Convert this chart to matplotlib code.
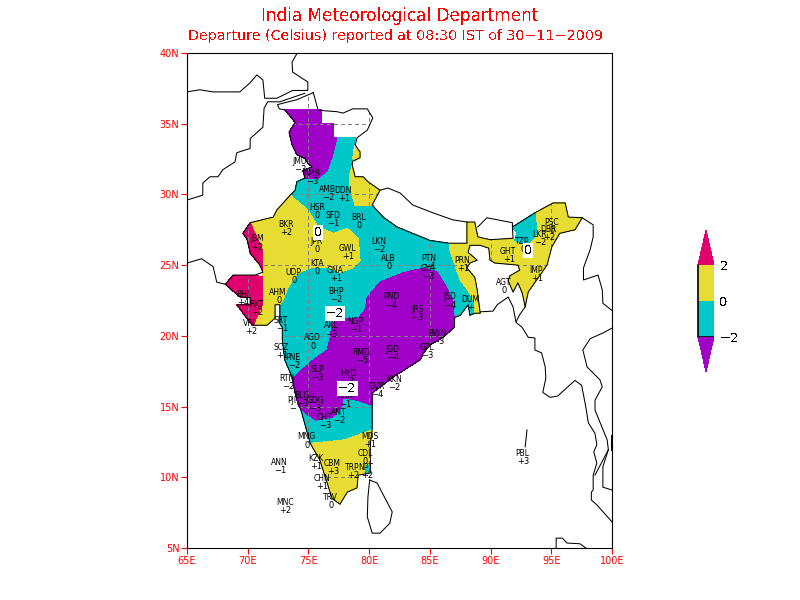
import matplotlib
matplotlib.use("Agg")
import matplotlib.pyplot as plt
from matplotlib.colors import ListedColormap, BoundaryNorm
from matplotlib.cm import ScalarMappable
from matplotlib.patches import Polygon

plt.rcParams["font.family"] = "DejaVu Sans"
plt.rcParams["text.antialiased"] = False

# colours of the shading
C_RED = "#e0006e"
C_YELLOW = "#e6dc32"
C_TEAL = "#00c8c8"
C_PURPLE = "#a000c8"

# departure areas, (lon, lat)
TEAL_MAIN = [(77.35,34.0),(78.9,34.0),(78.65,33.15),(78.65,32.45),(78.35,31.25),(78.45,30.35),(78.85,29.2),
    (80.25,29.25),(81.15,28.4),(82.3,27.7),(85.0,26.75),(86.6,26.55),(86.6,26.2),(87.05,25.0),(87.5,23.95),
    (88.3,23.0),(88.7,22.3),(88.7,21.6),(88.3,21.45),(88.15,22.2),(87.5,21.45),(87.05,21.3),(87.0,20.6),
    (86.1,19.9),(85.0,19.35),(84.45,18.75),(84.2,18.3),(82.0,17.1),(80.25,15.95),(80.25,15.1),(80.25,13.35),
    (78.0,12.65),(75.15,12.4),(74.45,14.55),(73.9,15.95),(73.65,17.1),(73.05,18.3),(72.85,19.7),(72.85,20.6),
    (72.65,20.85),(72.65,22.55),(71.25,24.65),(73.5,29.95),(73.9,30.3),(74.05,30.9),(74.7,31.15),(75.8,31.15)]
TEAL_NE = [(91.8,27.7),(93.65,28.7),(93.85,27.25),(93.0,26.4),(92.0,26.75),(92.15,27.3)]
TEAL_NPT = [(79.85,10.9),(80.1,10.9),(80.1,10.3),(79.65,10.3)]
PURPLE_NORTH = [(73.05,35.98),(76.1,35.98),(76.1,35.0),(77.1,35.0),(77.1,34.0),(77.35,34.0),(76.95,32.65),
    (76.55,31.7),(75.8,31.15),(74.7,31.15),(74.55,31.7),(75.3,31.95),(74.95,32.2),(74.7,32.55),(74.05,32.8),
    (73.65,33.5),(73.4,34.4),(73.9,35.1)]
PURPLE_MAIN = [(80.9,23.8),(82.8,24.45),(84.45,24.8),(85.6,24.5),(86.25,23.6),(86.85,22.55),(87.0,21.35),
    (87.0,20.6),(86.1,19.9),(85.0,19.35),(84.45,18.75),(84.2,18.3),(82.0,17.1),(80.25,15.95),(80.25,15.1),
    (79.0,15.45),(77.85,15.6),(77.75,15.0),(76.95,14.25),(75.7,14.05),(74.9,14.4),(74.15,15.1),(73.9,15.95),
    (73.75,17.0),(75.15,18.15),(76.55,19.0),(76.8,19.9),(76.95,20.9),(78.0,21.25),(79.1,21.25),(79.65,21.8),
    (79.85,22.75)]
YELLOW_WEST = [(73.5,29.95),(74.95,28.9),(75.8,27.7),(77.05,27.25),(78.2,27.6),(79.1,26.9),(79.25,25.35),
    (78.65,24.8),(77.6,24.5),(76.8,24.8),(75.15,24.8),(74.15,24.45),(73.3,23.4),(72.9,22.55),(72.65,22.2),
    (72.25,22.2),(72.25,21.25),(71.6,20.75),(70.45,20.75),(71.2,22.2),(71.25,24.15),(71.2,26.1),(70.2,28.0),
    (72.1,28.4),(72.4,28.9)]
YELLOW_SOUTH = [(75.15,12.4),(78.0,12.65),(80.25,13.35),(80.1,12.4),(79.85,10.3),(79.1,10.15),(79.0,9.25),
    (78.2,8.95),(77.6,8.1),(76.95,8.5),(75.95,11.2)]
YELLOW_HILLS = [(78.35,31.25),(78.6,32.1),(78.85,31.25),(79.5,31.25),(79.9,30.9),(80.9,30.3),(80.25,29.25),
    (78.85,29.2),(78.45,30.35)]
YELLOW_LADAKH = [(78.85,33.5),(79.25,33.0),(79.25,32.6),(78.85,32.35),(78.65,32.6),(78.85,33.15)]
YELLOW_NE = [(86.6,26.55),(88.05,26.55),(88.05,28.05),(88.7,28.05),(88.95,27.0),(89.95,26.8),(91.85,26.9),
    (92.0,26.65),(93.0,26.4),(93.85,27.25),(93.65,28.7),(95.15,29.4),(96.15,29.4),(96.4,28.4),(97.55,28.35),
    (96.95,27.5),(95.7,27.25),(95.05,26.3),(94.65,25.0),(93.1,23.1),(92.85,22.05),(92.6,23.05),(92.25,23.75),
    (91.85,23.1),(91.45,23.9),(91.6,24.25),(92.4,24.65),(92.25,25.0),(90.35,25.15),(89.95,25.35),(89.85,26.2),
    (89.15,26.4),(88.3,26.4),(88.15,25.9),(88.9,25.35),(88.3,25.15),(88.05,24.8),(88.7,24.15),(88.9,23.25),
    (89.15,21.6),(88.7,21.6),(88.7,22.3),(88.3,23.0),(87.5,23.95),(87.05,25.0),(86.6,26.2)]
RED_NORTH = [(70.2,28.0),(69.6,27.25),(69.95,26.8),(70.2,25.85),(71.0,25.0),(71.25,24.5),(71.2,26.1)]
RED_SOUTH = [(68.15,23.65),(68.8,24.3),(70.6,24.3),(71.25,24.15),(71.2,22.2),(70.45,20.75),(70.05,21.1),
    (69.1,22.2),(70.2,22.2),(70.2,22.7),(69.35,22.75)]

# map lines, (lon, lat)
INDIA_BORDER = [(75.4,37.2),(75.8,35.95),(77.35,35.85),(77.85,35.75),(78.65,36.05),(79.85,36.05),(80.3,35.4),
    (79.85,34.55),(79.0,34.0),(78.85,33.5),(79.25,33.0),(79.25,32.6),(78.65,32.35),(78.6,32.1),(78.85,31.25),
    (79.5,31.25),(79.9,30.9),(80.9,30.3),(80.25,29.25),(81.15,28.4),(82.3,27.7),(85.0,26.75),(86.6,26.55),
    (88.05,26.55),(88.05,28.05),(88.7,28.05),(88.95,27.0),(89.95,26.8),(91.85,26.9),(91.8,27.7),(93.65,28.7),
    (95.15,29.4),(96.15,29.4),(96.4,28.4),(97.55,28.35),(96.95,27.5),(95.7,27.25),(95.05,26.3),(94.65,25.0),
    (93.1,23.1),(92.85,22.05),(92.6,23.05),(92.25,23.75),(91.85,23.1),(91.45,23.9),(91.6,24.25),(92.4,24.65),
    (92.25,25.0),(90.35,25.15),(89.95,25.35),(89.85,26.2),(89.15,26.4),(88.3,26.4),(88.15,25.9),(88.9,25.35),
    (88.3,25.15),(88.05,24.8),(88.7,24.15),(88.9,23.25),(89.15,21.6),(88.7,21.6),(88.3,21.45),(88.15,22.2),
    (87.5,21.45),(87.05,21.3),(87.0,20.6),(86.1,19.9),(85.0,19.35),(84.45,18.75),(84.2,18.3),(82.0,17.1),
    (80.25,15.95),(80.25,13.35),(80.1,12.4),(80.1,10.3),(79.1,10.15),(79.0,9.25),(78.2,8.95),(77.6,8.1),
    (76.95,8.5),(75.95,11.2),(75.15,12.4),(74.45,14.55),(73.9,15.95),(73.65,17.1),(73.05,18.3),(72.85,19.7),
    (72.85,20.6),(72.65,20.85),(72.65,22.2),(72.25,22.2),(72.25,21.25),(71.6,20.75),(70.45,20.75),(70.05,21.1),
    (69.1,22.2),(70.2,22.2),(70.2,22.7),(69.35,22.75),(68.15,23.65),(68.8,24.3),(70.6,24.3),(71.25,24.5),
    (71.0,25.0),(70.2,25.85),(69.95,26.8),(69.6,27.25),(70.2,28.0),(72.1,28.4),(72.4,28.9),(73.5,29.95),
    (73.9,30.3),(74.05,30.9),(74.7,31.15),(74.55,31.7),(75.3,31.95),(74.95,32.2),(74.7,32.55),(74.05,32.8),
    (73.65,33.5),(73.4,34.4),(73.9,35.1),(73.05,35.98),(72.6,36.05),(72.45,36.35),(74.05,36.7),(75.4,37.2)]
AFGHAN_NORTH = [(65,37.25),(66.05,37.4),(67.15,37.25),(68.15,37.25),(69.35,37.25),(70.2,37.9),(70.75,38.45),
    (71.25,38.1),(71.4,36.8),(72.4,36.8),(73.7,37.35),(74.95,37.35),(74.95,37.95),(73.7,38.65),(73.65,39.35),
    (74.05,39.95)]
PAK_AFGHAN = [(74.7,37.15),(72.65,36.55),(71.65,36.55),(71.35,36.1),(71.25,34.75),(70.2,33.95),(70.2,33.25),
    (69.1,32.95),(68.95,32.3),(67.95,31.75),(67.55,31.25),(66.9,31.25),(66.3,30.8),(66.3,29.95),(65,29.6)]
PAK_COAST = [(65,25.15),(66.2,25.45),(67.15,24.9),(67.45,23.8),(68.15,23.65)]
NEPAL_NORTH = [(80.9,30.3),(81.55,30.45),(82.55,30.1),(83.6,29.25),(85.25,28.7),(86.9,28.2),(88.05,28.05)]
BHUTAN = [(88.95,27.7),(89.7,28.35),(91.8,28.0),(91.8,27.7)]
MYANMAR = [(97.55,28.35),(98.45,27.85),(98.45,27.0),(98.2,26.1),(97.65,24.8),(97.65,23.95),(98.85,24.3),
    (99.2,23.25),(99.25,22.3),(100,21.8)]
BAY_COAST = [(89.15,21.7),(90.2,21.75),(90.55,22.2),(91.45,22.75),(91.85,22.05),(92.1,20.95),(92.6,20.6),
    (93.1,19.9),(93.65,19.85),(93.65,19.0),(94.2,18.8),(94.5,17.8),(94.55,17.0),(94.3,16.0),(94.9,15.65),
    (95.55,15.75),(95.85,16.0),(96.95,16.85),(97.5,16.5),(97.85,14.95),(98.05,13.85),(98.6,13.1),(98.75,12.3),
    (98.5,11.8),(98.75,11.0),(98.45,10.15),(98.45,9.1),(98.3,8.95),(98.3,8.4),(98.75,8.05),(100,6.85)]
MIZORAM_SPUR = [(92.1,21.0),(92.4,21.5),(92.85,22.05)]
THAILAND_WEST = [(100,20.55),(99.25,20.2),(98.2,19.8),(97.6,19.0),(97.95,17.8),(99.0,16.9),(99.2,16.4),
    (98.6,15.45),(98.6,14.75),(99.6,12.65),(99.7,11.95),(98.6,10.15)]
THAILAND_EAST = [(99.7,11.95),(99.25,10.75),(99.25,9.3),(100,9.1)]
THAILAND_GULF = [(99.9,13.0),(99.9,11.95)]
ANDAMAN = [(93.0,13.35),(92.85,12.15)]
SUMATRA = [(95.4,5.0),(95.4,5.7),(95.9,5.7),(96.3,5.35),(97.35,5.3),(97.85,5.0)]
SRI_LANKA = [(80.05,9.8),(80.65,9.6),(81.9,7.55),(81.7,6.75),(80.9,6.05),(80.25,6.05),(79.85,7.2),(79.9,8.6),
    (80.0,9.45),(80.05,9.8)]

# stations
STATION_NAME = ["JMU","AMR","AMB","DDN","HSR","SFD","BRL","BKR","JSM","JPR","GWL","LKN","ALB","KTA","UDP","GNA",
    "AHM","BHJ","BHP","RKT","PND","SRT","VRL","AKL","NGP","AGD","SCZ","PNE","RMD","JGD","SLP","HYD","RTN","KKN",
    "GVR","BLG","PJI","GDG","KRN","ANT","CHT","MNG","MDS","CDL","ANN","KZK","CBM","TRP","NPT","CHN","TRV","MNC",
    "PBL","GYA","PTN","JSD","DUM","JRS","BWN","GPL","PRN","GHT","AGT","IMP","TZP","LKR","DBR","PSC"]
STATION_LON = [74.3,75.3,76.6,77.85,75.7,77.0,79.1,73.15,70.75,75.7,78.2,80.75,81.55,75.7,73.75,77.2,
    72.5,69.6,77.25,70.7,81.8,72.75,70.2,76.85,78.9,75.3,72.75,73.75,79.35,81.9,75.7,78.25,73.25,82.05,
    80.65,74.45,73.65,75.55,78.0,77.5,76.35,74.8,80.05,79.65,72.6,75.6,76.95,78.65,79.75,76.1,76.85,73.05,
    92.6,84.85,84.95,86.65,88.3,83.95,85.6,84.75,87.65,91.45,91.1,93.75,92.6,94.0,94.8,95.05]
STATION_LAT = [32.35,31.5,30.35,30.25,29.1,28.5,28.35,27.9,26.85,26.7,26.2,26.65,25.45,25.15,24.5,24.6,
    23.05,22.95,23.15,22.2,22.75,21.1,20.9,20.7,21.05,19.85,19.15,18.5,18.8,19.05,17.65,17.35,17.0,16.9,
    16.45,15.8,15.4,15.4,15.75,14.6,14.2,12.85,12.9,11.7,11.05,11.3,11.0,10.7,10.7,9.9,8.55,8.25,
    11.7,24.75,25.5,22.75,22.6,21.85,20.2,19.2,25.3,26.0,23.8,24.6,26.65,27.2,27.5,28.05]
STATION_DEP = ["-3","-3","-2","+1","0","-1","0","+2","+2","0","+1","-2","0","0","0","+1",
    "0","+4","-2","+2","-4","-1","+2","-3","-1","0","+1","-2","-5","-4","-3","-3","-2","-2",
    "-4","-3","-","-3","-1","-2","-3","0","+1","0","-1","+1","+3","+2","+2","+1","0","+2",
    "+3","-3","-1","-4","+","-3","-3","-3","+1","+1","0","+1","0","-2","+2","0"]

# contour labels
CONTOUR_LON = [75.8,77.2,78.2,93.1]
CONTOUR_LAT = [27.3,21.6,16.3,26.05]
CONTOUR_TEXT = ["0","\u22122","\u22122","0"]

LON_TICKS = [65,70,75,80,85,90,95,100]
LAT_TICKS = [5,10,15,20,25,30,35,40]
BAR_LEVELS = [-2,0,2]
BAR_LABELS = ["\u22122","0","2"]

fig = plt.figure(figsize=(8, 6), dpi=100)
ax = fig.add_axes([187/800, 52/600, 425/800, 495/600])
ax.set_xlim(65, 100)
ax.set_ylim(5, 40)

for area, colour in [(TEAL_MAIN, C_TEAL), (YELLOW_WEST, C_YELLOW), (YELLOW_SOUTH, C_YELLOW),
                     (YELLOW_HILLS, C_YELLOW), (YELLOW_LADAKH, C_YELLOW), (YELLOW_NE, C_YELLOW), (TEAL_NE, C_TEAL),
                     (TEAL_NPT, C_TEAL), (PURPLE_NORTH, C_PURPLE), (PURPLE_MAIN, C_PURPLE),
                     (RED_NORTH, C_RED), (RED_SOUTH, C_RED)]:
    ax.fill(*zip(*area), facecolor=colour, edgecolor="none", antialiased=False, zorder=1)

# grid only shows inside the country
clip = Polygon(INDIA_BORDER, transform=ax.transData)
for lon in LON_TICKS[1:-1]:
    ax.axvline(lon, color="#808080", lw=0.72, ls=(0, (3, 3)), zorder=2, antialiased=False).set_clip_path(clip)
for lat in LAT_TICKS[1:-1]:
    ax.axhline(lat, color="#808080", lw=0.72, ls=(0, (3, 3)), zorder=2, antialiased=False).set_clip_path(clip)

for line in [INDIA_BORDER, AFGHAN_NORTH, PAK_AFGHAN, PAK_COAST, NEPAL_NORTH, BHUTAN, MYANMAR, BAY_COAST,
             MIZORAM_SPUR, THAILAND_WEST, THAILAND_EAST, THAILAND_GULF, ANDAMAN, SUMATRA, SRI_LANKA]:
    ax.plot(*zip(*line), color="black", lw=0.75, antialiased=True, zorder=3)

for name, lon, lat, dep in zip(STATION_NAME, STATION_LON, STATION_LAT, STATION_DEP):
    ax.annotate(name, (lon, lat), ha="center", va="center", fontsize=5.5, zorder=4, antialiased=True)
    ax.annotate(dep.replace("-", "\u2212"), (lon, lat), xytext=(0.5, -5.8), textcoords="offset points",
                ha="center", va="center", fontsize=6, zorder=4, antialiased=True)

for lon, lat, txt in zip(CONTOUR_LON, CONTOUR_LAT, CONTOUR_TEXT):
    ax.text(lon, lat, txt, ha="center", va="center", fontsize=9, zorder=5,
            bbox=dict(facecolor="white", edgecolor="none", pad=0.8))

ax.set_xticks(LON_TICKS, [f"{v}E" for v in LON_TICKS])
ax.set_yticks(LAT_TICKS, [f"{v}N" for v in LAT_TICKS])
ax.tick_params(colors="red", labelsize=7, length=4, width=0.8, pad=1.5)
for label in ax.get_xticklabels() + ax.get_yticklabels():
    label.set_antialiased(True)
for s in ax.spines.values():
    s.set_color("black")
    s.set_linewidth(0.8)
    s.set_zorder(6)

fig.text(400/800, 1 - 16/600, "India Meteorological Department", color="red", ha="center", va="center", fontsize=12.2)
fig.text(395/800, 1 - 36/600, "Departure (Celsius) reported at 08:30 IST of 30-11-2009".replace("-", "\u2212"),
         color="red", ha="center", va="center", fontsize=10.3)

# colour key
cax = fig.add_axes([698/800, (600-372)/600, 16/800, 142/600])
cmap = ListedColormap([C_TEAL, C_YELLOW]).with_extremes(under=C_PURPLE, over=C_RED)
sm = ScalarMappable(norm=BoundaryNorm(BAR_LEVELS, 2), cmap=cmap)
cb = fig.colorbar(sm, cax=cax, extend="both", extendfrac=0.486, drawedges=False)
cb.set_ticks(BAR_LEVELS, labels=BAR_LABELS)
cb.outline.set_visible(False)
cax.tick_params(length=0, labelsize=9.5, pad=4)
cax.axvline(cax.get_xlim()[0], color="black", lw=1.2, clip_on=False)
cax.axhline(-2, color="black", lw=1.2)

fig.savefig("out.png", dpi=100)
